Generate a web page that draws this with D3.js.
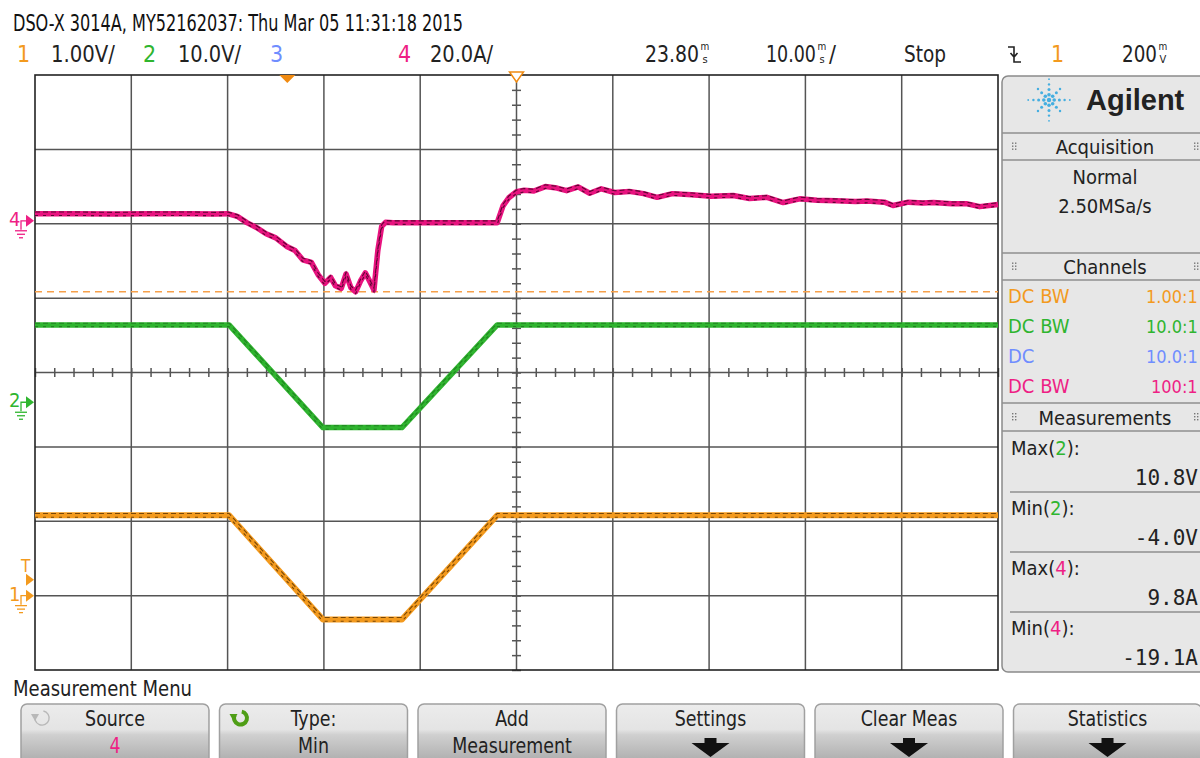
<!DOCTYPE html>
<html>
<head>
<meta charset="utf-8">
<script src="https://cdn.jsdelivr.net/npm/d3@7"></script>
<style>
  body { margin: 0; background: #fff; }
  svg { display: block; }
</style>
</head>
<body>
<svg width="1200" height="758"></svg>
<script>
// ---- values ----
// time in ms (trigger = 0), channel 4 in A
var ch4Time = [-26.2, -22, -18, -14, -10, -7.5, -6.2,
    -5.2, -4.2, -3.2, -2.2, -1.2, 0,
    0.8, 1.6, 2.5, 3.2, 3.9, 4.5, 5.0, 5.6, 6.1, 6.6, 7.1, 7.6, 8.1, 8.6, 9.0, 9.4, 9.8, 10.2,
    11, 14, 18, 21.8,
    22.4, 23.0, 23.8, 24.6, 25.6, 26.8, 28.0, 29.0, 30.2, 31.4, 32.6, 34.0, 35.5, 37.0, 38.4,
    40.0, 42.0, 44.0, 46.3, 48.0, 49.8, 51.5, 53.2, 55.0, 57.0, 59.0, 60.2, 62.0, 62.9, 64.5,
    66.0, 67.1, 69.0, 70.5, 71.9, 73.8];
var ch4Amps = [1.9, 1.9, 1.8, 1.9, 1.9, 1.8, 1.9,
    1.2, -0.5, -1.8, -3.5, -4.6, -7.0,
    -8.0, -10.5, -11.2, -14.5, -16.8, -15.2, -17.5, -18.2, -14.3, -18.0, -19.1, -16.2, -14.0, -16.5, -18.6, -8.0, -1.5, -0.4,
    -0.5, -0.5, -0.5, -0.5,
    4.0, 6.2, 7.8, 8.2, 8.0, 9.2, 8.8, 8.1, 9.1, 7.4, 8.6, 7.6, 7.9, 7.3, 6.3,
    7.3, 7.0, 6.6, 6.8, 6.0, 6.3, 4.9, 5.9, 5.5, 5.4, 5.2, 5.3, 5.0, 4.1, 5.0,
    4.8, 4.9, 4.6, 4.6, 3.8, 4.4];

// channel 2 (V) and channel 1 (V): ramp down, hold, ramp up
var rampTime = [-26.2, -6.05, 3.7, 11.9, 21.8, 73.8];
var ch2Volts = [10.4, 10.4, -3.4, -3.4, 10.4, 10.4];
var ch1Volts = [1.08, 1.08, -0.32, -0.32, 1.08, 1.08];

var minMarkerAmps = -19.1;   // Min(4) marker line

var headerItems = [
    { t: "1", c: "#f39a1e" }, { t: "1.00V/" }, { t: "2", c: "#2fb52f" }, { t: "10.0V/" },
    { t: "3", c: "#6f8dff" }, { t: "4", c: "#ee1f85" }, { t: "20.0A/" }
];
var channelRows = [
    { a: "DC BW", b: "1.00:1", c: "#f39a1e" },
    { a: "DC BW", b: "10.0:1", c: "#2fb52f" },
    { a: "DC", b: "10.0:1", c: "#6f8dff" },
    { a: "DC BW", b: "100:1", c: "#ee1f85" }
];
var measRows = [
    { name: "Max", ch: "2", c: "#2fb52f", val: "10.8V" },
    { name: "Min", ch: "2", c: "#2fb52f", val: "-4.0V" },
    { name: "Max", ch: "4", c: "#ee1f85", val: "9.8A" },
    { name: "Min", ch: "4", c: "#ee1f85", val: "-19.1A" }
];
var buttons = [
    { l1: "Source", l2: "4", c2: "#ee1f85", icon: "gray" },
    { l1: "Type:", l2: "Min", icon: "green" },
    { l1: "Add", l2: "Measurement" },
    { l1: "Settings", arrow: true },
    { l1: "Clear Meas", arrow: true },
    { l1: "Statistics", arrow: true }
];

var NARROW = "'Liberation Sans Narrow','DejaVu Sans Condensed','Arial Narrow',sans-serif";
var PANEL = "'DejaVu Sans Condensed','DejaVu Sans',sans-serif";
var MONO = "'DejaVu Sans Mono','Liberation Mono',monospace";

var svg = d3.select("svg");
svg.append("rect").attr("width", 1200).attr("height", 758).attr("fill", "#fff");

// squeeze a text horizontally, like the scope's tall narrow font
function squeeze(t, f) {
    var w = t.node().getComputedTextLength();
    t.attr("textLength", w * f).attr("lengthAdjust", "spacingAndGlyphs");
    return t;
}

// ---- scales ----
var gl = 35, gr = 998, gt = 75, gb = 670;
var x = d3.scaleLinear().domain([-26.2, 73.8]).range([gl, gr]);
var yDiv = d3.scaleLinear().domain([-4, 4]).range([gb, gt]);
function chScale(pos, perDiv) {
    return function(v) { return yDiv(pos + v / perDiv); };
}
var y4 = chScale(2.04, 20), y2 = chScale(-0.4, 10), y1 = chScale(-3.0, 1);

// ---- graticule ----
var grid = svg.append("g");
grid.selectAll(".vl").data(d3.range(1, 10)).enter().append("line")
    .attr("x1", function(i) { return x(-26.2 + i * 10); })
    .attr("x2", function(i) { return x(-26.2 + i * 10); })
    .attr("y1", gt).attr("y2", gb)
    .attr("stroke", "#555").attr("stroke-width", 1.5);
grid.selectAll(".hl").data(d3.range(-3, 4)).enter().append("line")
    .attr("y1", function(d) { return yDiv(d); })
    .attr("y2", function(d) { return yDiv(d); })
    .attr("x1", gl).attr("x2", gr)
    .attr("stroke", "#555").attr("stroke-width", 1.5);

// minor ticks on the centre lines
var xTicks = d3.range(-26.2, 73.9, 2);
[-4.5, 4.5].forEach(function(s) {
    var ax = (s < 0 ? d3.axisTop(x) : d3.axisBottom(x)).tickValues(xTicks)
        .tickSize(Math.abs(s)).tickFormat("");
    grid.append("g").attr("transform", "translate(0," + yDiv(0) + ")").call(ax)
        .call(function(g) { g.select(".domain").remove(); })
        .selectAll("line").attr("stroke", "#555").attr("stroke-width", 1.5);
    var ay = (s < 0 ? d3.axisLeft(yDiv) : d3.axisRight(yDiv)).tickValues(d3.range(-4, 4.01, 0.2))
        .tickSize(Math.abs(s)).tickFormat("");
    grid.append("g").attr("transform", "translate(" + x(23.8) + ",0)").call(ay)
        .call(function(g) { g.select(".domain").remove(); })
        .selectAll("line").attr("stroke", "#555").attr("stroke-width", 1.5);
});
grid.append("rect").attr("x", gl).attr("y", gt).attr("width", gr - gl).attr("height", gb - gt)
    .attr("fill", "none").attr("stroke", "#222").attr("stroke-width", 1.6);

// Min(4) marker
svg.append("line").attr("x1", gl).attr("x2", gr)
    .attr("y1", y4(minMarkerAmps)).attr("y2", y4(minMarkerAmps))
    .attr("stroke", "#f6a04a").attr("stroke-width", 1.6).attr("stroke-dasharray", "7,5");

// ---- traces ----
function trace(times, vals, yf, color, w, dark, op) {
    var pts = times.map(function(t, i) { return [t, vals[i]]; });
    var line = d3.line().x(function(d) { return x(d[0]); }).y(function(d) { return yf(d[1]); });
    svg.append("path").datum(pts).attr("d", line).attr("fill", "none")
        .attr("stroke", color).attr("stroke-width", w).attr("stroke-linejoin", "round");
    [-w / 3.2, w / 3.2].forEach(function(off, k) {
        svg.append("path").datum(pts).attr("d", line).attr("fill", "none")
            .attr("transform", "translate(0," + off + ")")
            .attr("stroke", dark).attr("stroke-width", 1.1).attr("opacity", op)
            .attr("stroke-dasharray", k ? "3,5" : "5,3");
    });
}
trace(rampTime, ch1Volts, y1, "#f39a1e", 6, "#5a3200", 0.8);
trace(rampTime, ch2Volts, y2, "#2fb42f", 5.5, "#0d4a0d", 0.45);
trace(ch4Time, ch4Amps, y4, "#e8137f", 5.5, "#3c0320", 0.8);

// ---- channel ground markers ----
function gndMarker(yy, label, color, trig) {
    var g = svg.append("g").attr("fill", color).attr("stroke", color);
    g.append("text").attr("x", 9).attr("y", yy + 5).attr("stroke", "none")
        .attr("font-family", NARROW).attr("font-size", 20).text(label);
    g.append("path").attr("d", "M21," + (yy + 9) + "V" + yy + "H27").attr("fill", "none").attr("stroke-width", 1.3);
    g.append("path").attr("d", "M26," + (yy - 6) + "L34," + yy + "L26," + (yy + 6) + "Z").attr("stroke", "none");
    [[15, 27], [17, 25], [19, 23]].forEach(function(b, i) {
        g.append("line").attr("x1", b[0]).attr("x2", b[1])
            .attr("y1", yy + 10 + i * 3.5).attr("y2", yy + 10 + i * 3.5).attr("stroke-width", 1.3);
    });
    if (trig) {
        g.append("text").attr("x", 21).attr("y", yy - 24).attr("stroke", "none")
            .attr("font-family", NARROW).attr("font-size", 17).text("T");
        g.append("path").attr("d", "M26," + (yy - 22) + "L34," + (yy - 16) + "L26," + (yy - 10) + "Z").attr("stroke", "none");
    }
}
gndMarker(y4(0), "4", "#ee1f85");
gndMarker(y2(0), "2", "#2fb52f");
gndMarker(y1(0), "1", "#f39a1e", true);

// trigger / delay markers on top
svg.append("path").attr("d", "M" + (x(0) - 8) + ",75L" + (x(0) + 8) + ",75L" + x(0) + ",83Z").attr("fill", "#f08a10");
svg.append("path").attr("d", "M" + (x(23.8) - 7) + ",72L" + (x(23.8) + 7) + ",72L" + x(23.8) + ",82Z")
    .attr("fill", "#fff").attr("stroke", "#f08a10").attr("stroke-width", 1.5);

// ---- header ----
svg.append("text").attr("x", 13).attr("y", 31).attr("font-family", NARROW).attr("font-size", 23)
    .attr("textLength", 450).attr("lengthAdjust", "spacingAndGlyphs").attr("fill", "#111")
    .text("DSO-X 3014A, MY52162037: Thu Mar 05 11:31:18 2015");

var hx = [17, 51, 143, 178, 270, 398, 430], hw = [null, 64, null, 63, null, null, 63];
headerItems.forEach(function(d, i) {
    var t = svg.append("text").attr("x", hx[i]).attr("y", 62).attr("font-family", NARROW)
        .attr("font-size", 23).attr("fill", d.c || "#222").text(d.t);
    if (hw[i]) t.attr("textLength", hw[i]).attr("lengthAdjust", "spacingAndGlyphs");
});
// value (scaled to width w) followed by a small stacked unit (m over s, m over V)
function stacked(xx, main, w, top, bot, tail) {
    var t = svg.append("text").attr("font-family", NARROW).attr("font-size", 23).attr("fill", "#222").text(main);
    var nat = t.node().getComputedTextLength();
    t.attr("transform", "translate(" + xx + ",62) scale(" + (w / nat) + ",1)");
    var u = svg.append("text").attr("font-family", NARROW).attr("fill", "#222").attr("text-anchor", "middle");
    u.append("tspan").attr("x", xx + w + 6).attr("y", 50).attr("font-size", 10).text(top);
    u.append("tspan").attr("x", xx + w + 6).attr("y", 63).attr("font-size", 11).text(bot);
    if (tail) svg.append("text").attr("x", xx + w + 13).attr("y", 62).attr("font-family", NARROW)
        .attr("font-size", 23).attr("fill", "#222").text(tail);
}
stacked(645, "23.80", 54, "m", "s");
stacked(766, "10.00", 50, "m", "s", "/");
svg.append("text").attr("x", 904).attr("y", 62).attr("font-family", NARROW).attr("font-size", 23)
    .attr("fill", "#222").attr("textLength", 42).attr("lengthAdjust", "spacingAndGlyphs").text("Stop");
svg.append("path").attr("d", "M1008,47H1014V62H1021M1010.5,53L1014,57L1017.5,53")
    .attr("fill", "none").attr("stroke", "#222").attr("stroke-width", 1.6);
svg.append("text").attr("x", 1051).attr("y", 62).attr("font-family", NARROW).attr("font-size", 23)
    .attr("fill", "#f39a1e").text("1");
stacked(1122, "200", 35, "m", "V");

// ---- right panel ----
var px = 1002;
var panel = svg.append("g");
panel.append("rect").attr("x", px).attr("y", 76).attr("width", 210).attr("height", 596).attr("rx", 6)
    .attr("fill", "#e7e7e7").attr("stroke", "#8a8a8a").attr("stroke-width", 1.5);

// Agilent spark
var spark = panel.append("g").attr("fill", "#45aee0");
d3.range(8).forEach(function(k) {
    var a = k * Math.PI / 4, len = k % 2 ? 3 : 4;
    d3.range(1, len + 1).forEach(function(j) {
        spark.append("circle").attr("cx", 1049 + Math.cos(a) * j * 5.2).attr("cy", 100 + Math.sin(a) * j * 5.2)
            .attr("r", 2.1 - j * 0.3);
    });
});
spark.append("circle").attr("cx", 1049).attr("cy", 100).attr("r", 2.2);
panel.append("text").attr("x", 1086).attr("y", 110).attr("font-family", "'Liberation Sans',Arial,sans-serif")
    .attr("font-weight", "bold").attr("font-size", 29).attr("fill", "#222").text("Agilent");

function hline(yy, x0) {
    panel.append("line").attr("x1", x0 || px).attr("x2", 1200).attr("y1", yy).attr("y2", yy)
        .attr("stroke", "#8f8f8f").attr("stroke-width", 1.6);
}
function header(y0, y1, label) {
    hline(y0); hline(y1);
    panel.append("text").attr("x", 1105).attr("y", y1 - 6).attr("text-anchor", "middle")
        .attr("font-family", PANEL).attr("font-size", 20).attr("fill", "#222").text(label);
    [1012, 1194].forEach(function(gx) {
        [0, 1].forEach(function(c) {
            [0, 1, 2].forEach(function(r) {
                panel.append("rect").attr("x", gx + c * 3).attr("y", (y0 + y1) / 2 - 4 + r * 3)
                    .attr("width", 1.4).attr("height", 1.4).attr("fill", "#777");
            });
        });
    });
}
header(133, 160, "Acquisition");
panel.append("text").attr("x", 1105).attr("y", 184).attr("text-anchor", "middle").attr("font-family", PANEL)
    .attr("font-size", 20).attr("fill", "#222").text("Normal");
panel.append("text").attr("x", 1105).attr("y", 213).attr("text-anchor", "middle").attr("font-family", PANEL)
    .attr("font-size", 20).attr("fill", "#222").text("2.50MSa/s");
header(253, 280, "Channels");
channelRows.forEach(function(d, i) {
    var yy = 303 + i * 30;
    panel.append("text").attr("x", 1008).attr("y", yy).attr("font-family", PANEL).attr("font-size", 20)
        .attr("fill", d.c).text(d.a);
    panel.append("text").attr("x", d.b.length > 5 ? 1146 : 1151).attr("y", yy).attr("font-family", PANEL)
        .attr("font-size", 18).attr("fill", d.c).text(d.b);
});
header(403, 431, "Measurements");
measRows.forEach(function(d, i) {
    var yy = 455 + i * 60;
    var t = panel.append("text").attr("x", 1011).attr("y", yy).attr("font-family", PANEL)
        .attr("font-size", 20).attr("fill", "#222");
    t.append("tspan").text(d.name + "(");
    t.append("tspan").attr("fill", d.c).text(d.ch);
    t.append("tspan").text("):");
    panel.append("text").attr("x", 1198).attr("y", yy + 30).attr("text-anchor", "end")
        .attr("font-family", MONO).attr("font-size", 21).attr("fill", "#222").text(d.val);
    if (i < 3) hline(yy + 37, 1010);
});

// ---- bottom menu ----
svg.append("text").attr("x", 13).attr("y", 696).attr("font-family", NARROW).attr("font-size", 21)
    .attr("fill", "#222").attr("textLength", 179).attr("lengthAdjust", "spacingAndGlyphs").text("Measurement Menu");

var defs = svg.append("defs");
var grad = defs.append("linearGradient").attr("id", "btn").attr("x1", 0).attr("x2", 0).attr("y1", 0).attr("y2", 1);
grad.append("stop").attr("offset", "0").attr("stop-color", "#ececec");
grad.append("stop").attr("offset", "0.4").attr("stop-color", "#e4e4e4");
grad.append("stop").attr("offset", "0.48").attr("stop-color", "#d0d0d0");
grad.append("stop").attr("offset", "1").attr("stop-color", "#a5a5a5");

var bx = d3.scaleBand().domain(d3.range(buttons.length)).range([21, 1201.5]).paddingInner(0.053);
buttons.forEach(function(d, i) {
    var x0 = bx(i), w = bx.bandwidth(), cx = x0 + w / 2;
    var g = svg.append("g");
    g.append("rect").attr("x", x0).attr("y", 704).attr("width", w).attr("height", 64).attr("rx", 6)
        .attr("fill", "url(#btn)").attr("stroke", "#a0a0a0").attr("stroke-width", 1.5);
    squeeze(g.append("text").attr("x", cx).attr("y", 726).attr("text-anchor", "middle").attr("font-family", NARROW)
        .attr("font-size", 22).attr("fill", "#222").text(d.l1), 0.88);
    if (d.l2) squeeze(g.append("text").attr("x", cx).attr("y", 753).attr("text-anchor", "middle")
        .attr("font-family", NARROW).attr("font-size", 22).attr("fill", d.c2 || "#222").text(d.l2), 0.88);
    if (d.arrow) g.append("path")
        .attr("d", "M" + (cx - 6) + ",738H" + (cx + 6) + "V743H" + (cx + 19) + "L" + cx + ",757L" + (cx - 19) + ",743H" + (cx - 6) + "Z")
        .attr("fill", "#111");
    if (d.icon) {
        var ix = x0 + 21, iy = 718, green = d.icon === "green";
        var col = green ? "#4f9e16" : "#b8b8b8";
        var arc = d3.arc().innerRadius(green ? 4.5 : 6.5).outerRadius(green ? 8.5 : 7.8)
            .startAngle(0.2).endAngle(2 * Math.PI - 1.1);
        g.append("path").attr("d", arc()).attr("transform", "translate(" + ix + "," + iy + ")").attr("fill", col);
        g.append("path").attr("d", "M" + (ix - 11) + "," + (iy - 4) + "L" + (ix - 3) + "," + (iy - 4) + "L" + (ix - 7) + "," + (iy + 3) + "Z")
            .attr("fill", col);
    }
});
</script>
</body>
</html>
